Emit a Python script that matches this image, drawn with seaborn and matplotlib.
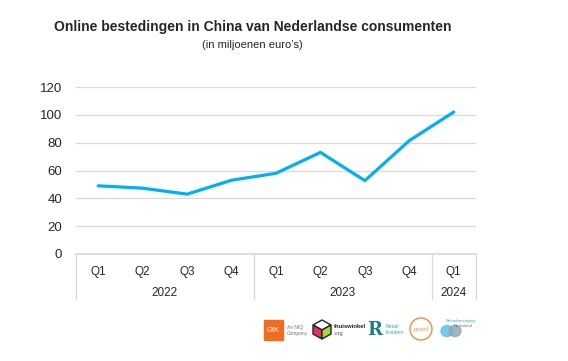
import pandas as pd
import matplotlib.pyplot as plt
import seaborn as sns
from matplotlib.patches import Rectangle, Ellipse, Polygon
from matplotlib.transforms import blended_transform_factory

# Data
quarters = ['Q1', 'Q2', 'Q3', 'Q4', 'Q1', 'Q2', 'Q3', 'Q4', 'Q1']
years = ['2022', '2022', '2022', '2022', '2023', '2023', '2023', '2023', '2024']
spend = [49, 47.3, 43, 53, 58, 73, 52.7, 81.5, 102]

df = pd.DataFrame({'idx': range(len(spend)), 'quarter': quarters,
                   'year': years, 'spend': spend})

sns.set_theme(style='white')
plt.rcParams['font.family'] = ['Liberation Sans', 'DejaVu Sans']

fig = plt.figure(figsize=(5.68, 3.61), dpi=100)
ax = fig.add_axes([76 / 568, 1 - 254 / 361, 400 / 568, 167 / 361])

sns.lineplot(data=df, x='idx', y='spend', ax=ax, color='#00B0F0',
             linewidth=2.3, solid_capstyle='round')

ax.set_xlim(-0.5, len(spend) - 0.5)
ax.set_ylim(0, 120)
ax.set_yticks(range(0, 121, 20))
ax.yaxis.grid(True, color='#D9D9D9', linewidth=0.9)
ax.set_axisbelow(True)
for s in ['left', 'right', 'top']:
    ax.spines[s].set_visible(False)
ax.spines['bottom'].set_color('#D9D9D9')
ax.set_xlabel('')
ax.set_ylabel('')
ax.tick_params(axis='y', labelsize=9.5, colors='#262626', length=0, pad=10)

# two-level category axis
ax.set_xticks(df['idx'])
ax.set_xticklabels(quarters, fontsize=8.5, color='#262626')
ax.tick_params(axis='x', length=0, pad=9)

trans = blended_transform_factory(ax.transData, ax.transAxes)
sep_bottom = (254 - 299) / 167
groups = df.groupby('year')['idx'].agg(['min', 'max'])
edges = [-0.5] + [g + 0.5 for g in groups['max']]
for e in edges:
    ax.plot([e, e], [0, sep_bottom], transform=trans, color='#D9D9D9',
            linewidth=0.9, clip_on=False)
for yr, row in groups.iterrows():
    ax.text((row['min'] + row['max']) / 2, (254 - 293) / 167, yr,
            transform=trans, ha='center', va='center', fontsize=8.5,
            color='#262626')

# titles
fig.text(0.5 * (53 + 452) / 568, 1 - 27 / 361,
         'Online bestedingen in China van Nederlandse consumenten',
         ha='center', va='center', fontsize=10, fontweight='bold')
fig.text(252 / 568, 1 - 45 / 361, '(in miljoenen euro\u2019s)',
         ha='center', va='center', fontsize=8, color='#262626')

# source logos (rough sketch)
la = fig.add_axes([0, 0, 1, 1], zorder=-1)
la.set_xlim(0, 568)
la.set_ylim(361, 0)
la.axis('off')
la.add_patch(Rectangle((264, 320), 19, 20, color='#F26B21'))
la.text(273.5, 330, 'GfK', color='white', fontsize=5.5, ha='center', va='center')
la.text(287, 327, 'An NIQ', fontsize=3.5, color='#777777', va='center')
la.text(287, 333, 'Company', fontsize=3.5, color='#777777', va='center')
la.add_patch(Polygon([(322, 320), (331, 325), (322, 330), (313, 325)],
                     facecolor='white', edgecolor='#222222', linewidth=1))
la.add_patch(Polygon([(313, 325), (322, 330), (322, 339), (313, 334)],
                     facecolor='#E0335A', edgecolor='#222222', linewidth=1))
la.add_patch(Polygon([(322, 330), (331, 325), (331, 334), (322, 339)],
                     facecolor='#A8D73A', edgecolor='#222222', linewidth=1))
la.text(334, 326, 'thuiswinkel', fontsize=4.2, fontweight='bold', color='#222222', va='center')
la.text(334, 333, '.org', fontsize=4, color='#555555', va='center')
la.text(375, 330, 'R', fontsize=13, fontweight='bold', color='#1C7A8C',
        ha='center', va='center', family='DejaVu Serif')
la.text(386, 327, 'Retail', fontsize=3.8, color='#3BA7C4', va='center')
la.text(386, 333, 'Insiders', fontsize=3.8, color='#3BA7C4', va='center')
la.add_patch(Ellipse((421, 329), 22, 22, facecolor='white',
                     edgecolor='#F58A3C', linewidth=1))
la.text(421, 330, 'postnl', fontsize=4, color='#F58A3C', ha='center', va='center')
la.add_patch(Ellipse((447, 331), 12, 11, color='#5EC3EA', alpha=0.85))
la.add_patch(Ellipse((455, 331), 12, 11, color='#8FA9BB', alpha=0.85))
la.text(461, 321, 'Betaalvereniging', fontsize=3, color='#3BA7C4', ha='center', va='center')
la.text(463, 326, 'Nederland', fontsize=3, color='#777777', ha='center', va='center')

fig.savefig('out.png', dpi=100, facecolor='white')
